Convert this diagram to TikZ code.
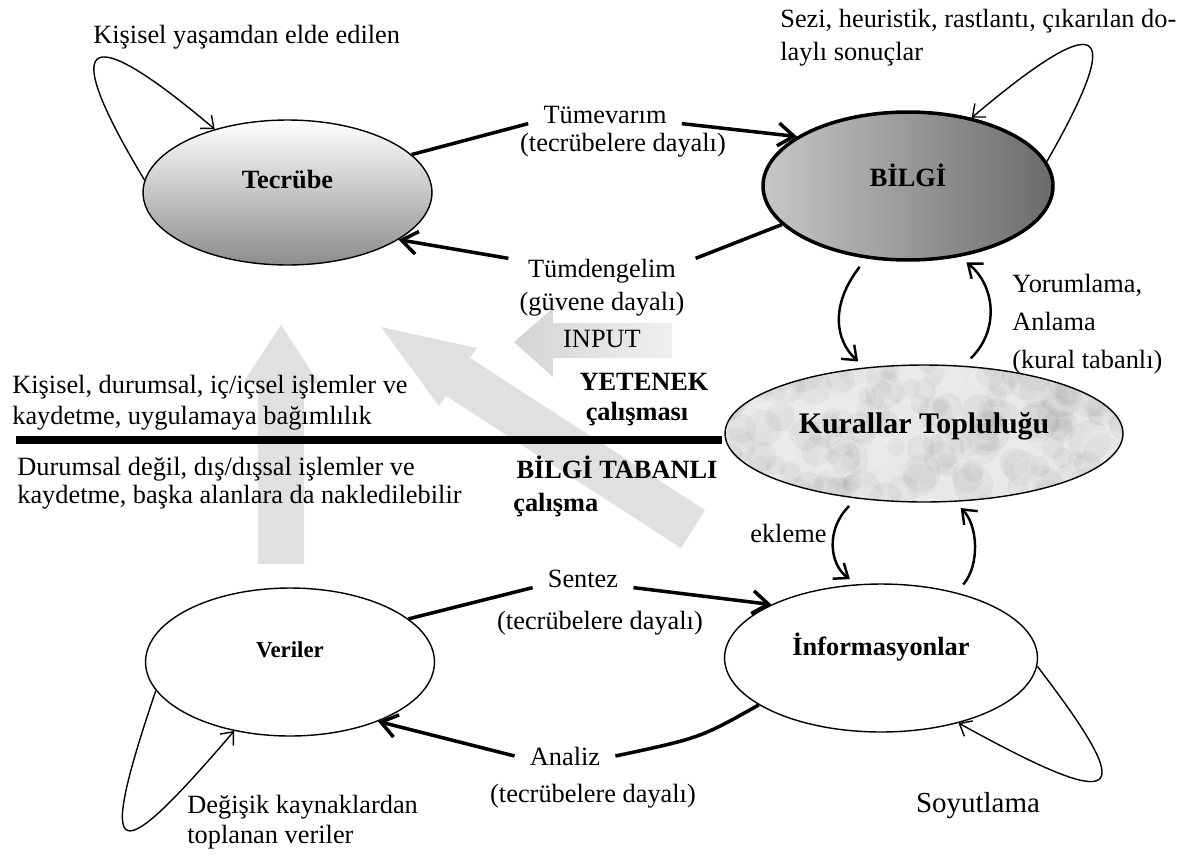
\documentclass[tikz,border=0pt]{standalone}
\usepackage{fontspec}
\setmainfont{Liberation Serif}
\usetikzlibrary{arrows.meta, shapes.geometric, positioning}

\begin{document}
\begin{tikzpicture}
    [
        x={(0.02cm,0)}, y={(0,-0.02cm)},
        txt/.style={font=\fontsize{15}{18}\selectfont, inner sep=0pt},
        boldtxt/.style={font=\fontsize{15}{18}\selectfont\bfseries, inner sep=0pt},
        lbl/.style={txt, inner xsep=8.5pt, inner ysep=0pt},
        concept/.style={ellipse, draw, line width=0.8pt, inner sep=0pt, text height=0pt, text depth=0pt, font=\fontsize{15}{18}\selectfont\bfseries},
        thickline/.style={line width=2pt},
        thickarrow/.style={thickline, -{Straight Barb[length=9pt, width=13pt]}},
        selfloop/.style={line width=0.8pt, -{Straight Barb[length=6pt, width=10pt]}},
        swing/.style={line width=1.4pt, shorten <=6pt, shorten >=5pt, -{Straight Barb[length=7pt, width=11pt]}},
        bigarrow/.style={fill=black!12},
    ]
    \useasboundingbox (0,0) rectangle (1189,856);

    % grey background arrows
    \fill[bigarrow] (258,564) -- (258,383) -- (243,383) -- (281,325) -- (319,383) -- (304,383) -- (304,564) -- cycle;
    \fill[bigarrow] (705,510) -- (470,358) -- (477,348) -- (381,327) -- (439,406) -- (446,396) -- (681,548) -- cycle;
    \shade[left color=black!17, right color=black!6] (672,323) -- (553,323) -- (553,308) -- (514,342) -- (553,377) -- (553,358) -- (672,358) -- cycle;

    % divider
    \draw[line width=4pt] (16,440) -- (722,440);

    % concepts
    \node (tec) at (287.5,192.5) [concept, minimum width=5.78cm, minimum height=2.9cm, top color=white, bottom color=black!45, text depth=5pt] {Tecrübe};
    \node (bil) at (908,186) [concept, line width=2pt, minimum width=5.8cm, minimum height=2.96cm, left color=black!22, right color=black!58] {BİLGİ};
    \node (kur) at (924,433.5) [concept, minimum width=7.96cm, minimum height=2.74cm, fill=black!9, font=\fontsize{17}{20}\selectfont\bfseries,
        path picture={
            \pgfmathsetseed{11}
            \foreach \k in {1,...,160}{
                \pgfmathsetmacro{\dx}{rand*120}
                \pgfmathsetmacro{\dy}{rand*42}
                \pgfmathsetmacro{\rr}{4+8*rnd}
                \fill[black, opacity=0.035] ([shift={(\dx pt,\dy pt)}]path picture bounding box.center) circle (\rr pt);
            }
            \foreach \k in {1,...,60}{
                \pgfmathsetmacro{\dx}{rand*120}
                \pgfmathsetmacro{\dy}{rand*42}
                \pgfmathsetmacro{\rr}{5+8*rnd}
                \fill[white, opacity=0.12] ([shift={(\dx pt,\dy pt)}]path picture bounding box.center) circle (\rr pt);
            }
        }] {Kurallar Topluluğu};
    \node (ver) at (290,662) [concept, minimum width=5.78cm, minimum height=2.96cm, font=\fontsize{13}{16}\selectfont\bfseries, text depth=5.7pt] {Veriler};
    \node (inf) at (881,658) [concept, minimum width=6.26cm, minimum height=2.96cm, text depth=3.4pt] {İnformasyonlar};

    % connector labels
    \node (tvlbl) at (605,123) [lbl, anchor=base] {Tümevarım};
    \node (tvsub) at (623,151) [txt, anchor=base] {(tecrübelere dayalı)};
    \node (tdlbl) at (602,277) [lbl, inner xsep=11pt, anchor=base] {Tümdengelim};
    \node (tdsub) at (602,310) [txt, anchor=base] {(güvene dayalı)};
    \node (inlbl) at (602,347) [txt, anchor=base] {INPUT};
    \node (snlbl) at (583,587) [lbl, anchor=base] {Sentez};
    \node (snsub) at (600,629) [txt, anchor=base] {(tecrübelere dayalı)};
    \node (anlbl) at (565,765) [lbl, anchor=base] {Analiz};
    \node (ansub) at (593,802) [txt, anchor=base] {(tecrübelere dayalı)};

    % connectors
    \draw[thickline] (tec.17) -- (tvlbl.south west);
    \draw[thickarrow] (tvlbl.south east) -- (bil.156);
    \draw[thickline] (bil.197) -- (tdlbl.north east);
    \draw[thickarrow] (tdlbl.north west) -- (tec.337);
    \draw[thickline] (ver.20) -- (snlbl.south west);
    \draw[thickarrow] (snlbl.south east) -- (inf.154);
    \draw[thickline] (inf.201) .. controls (700,738) .. (anlbl.east);
    \draw[thickarrow] (anlbl.west) -- (ver.326);

    % self loops
    \draw[selfloop] (tec.175) .. controls (60,40) and (80,15) .. (tec.139);
    \draw[selfloop] (bil.10) .. controls (1125,25) and (1105,5) .. (bil.47);
    \draw[selfloop] (ver.192) .. controls (95,870) and (115,870) .. (ver.231);
    \draw[selfloop] (inf.357) .. controls (1140,800) and (1125,815) .. (inf.320);

    % rule set links
    \draw[swing] (bil.240) .. controls (830,305) and (835,340) .. (kur.132);
    \draw[swing] (kur.60) .. controls (1000,330) and (995,285) .. (bil.306);
    \draw[swing] (kur.224) .. controls (825,530) and (830,565) .. (inf.108);
    \draw[swing] (inf.41) .. controls (980,565) and (978,525) .. (kur.294);

    % free texts
    \node (yasam) at (93,43) [txt, anchor=base west] {Kişisel yaşamdan elde edilen};
    \node (sezi) at (780,27) [txt, anchor=base west] {Sezi, heuristik, rastlantı, çıkarılan do-};
    \node (sezib) at (780,60) [txt, anchor=base west] {laylı sonuçlar};
    \node (yorum) at (1012,292) [txt, anchor=base west] {Yorumlama,};
    \node (anlama) at (1012,330) [txt, anchor=base west] {Anlama};
    \node (kuraltab) at (1012,368) [txt, anchor=base west] {(kural tabanlı)};
    \node (yetenek) at (644,390) [boldtxt, anchor=base] {YETENEK};
    \node (yetcal) at (637,420) [boldtxt, anchor=base] {çalışması};
    \node (kisisel) at (12,393) [txt, anchor=base west] {Kişisel, durumsal, iç/içsel işlemler ve};
    \node (kisiselb) at (12,424) [txt, anchor=base west] {kaydetme, uygulamaya bağımlılık};
    \node (durum) at (17,475) [txt, anchor=base west] {Durumsal değil, dış/dışsal işlemler ve};
    \node (durumb) at (17,503) [txt, anchor=base west] {kaydetme, başka alanlara da nakledilebilir};
    \node (tabanli) at (617,478) [boldtxt, anchor=base] {BİLGİ TABANLI};
    \node (calisma) at (513,511) [boldtxt, anchor=base west] {çalışma};
    \node (ekleme) at (750,542) [txt, anchor=base west] {ekleme};
    \node (degisik) at (187,813) [txt, anchor=base west] {Değişik kaynaklardan};
    \node (degisikb) at (187,843) [txt, anchor=base west] {toplanan veriler};
    \node (soyut) at (978,812) [txt, font=\fontsize{16.5}{20}\selectfont, anchor=base] {Soyutlama};
\end{tikzpicture}
\end{document}
